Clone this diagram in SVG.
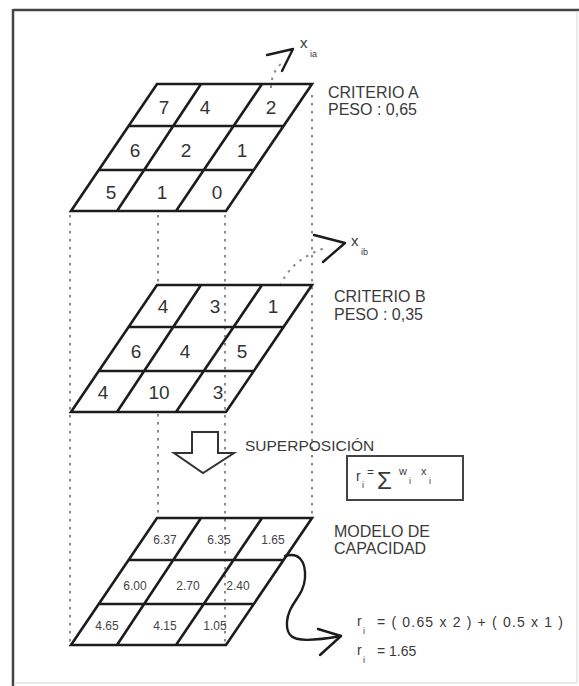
<svg xmlns="http://www.w3.org/2000/svg" width="579" height="686" viewBox="0 0 579 686">
<style>
.g{fill:none;stroke:#1c1c1c;stroke-width:2.6;stroke-linejoin:miter}
.d{fill:none;stroke:#8a8a8a;stroke-width:2;stroke-dasharray:2.5 5.5}
.n{font-family:"Liberation Sans",Arial,sans-serif;font-size:19px;fill:#333;text-anchor:middle}
.s{font-family:"Liberation Sans",Arial,sans-serif;font-size:12px;fill:#444;text-anchor:middle}
.l{font-family:"Liberation Sans",Arial,sans-serif;font-size:16px;fill:#3a3a3a}
.f{font-family:"Liberation Sans",Arial,sans-serif;font-size:14px;fill:#3a3a3a}
.sub{font-family:"Liberation Sans",Arial,sans-serif;font-size:9px;fill:#3a3a3a}
.a{fill:none;stroke:#1c1c1c;stroke-width:2.4;stroke-linecap:round;stroke-linejoin:round}
</style>
<defs>
<g id="grid">
<path class="g" d="M157,0 H312 L226,127 H71 Z M128.6,42 H283.6 M98.8,86 H253.8 M201,0 L117,127 M262,0 L176,127"/>
</g>
</defs>
<rect x="0" y="0" width="579" height="686" fill="#fff"/>
<g id="frame">
<line x1="13" y1="10" x2="579" y2="10" stroke="#444" stroke-width="2.5"/>
<line x1="13" y1="9" x2="13" y2="686" stroke="#444" stroke-width="2.5"/>
<line x1="577" y1="11" x2="577" y2="683" stroke="#e2e2e2" stroke-width="1.5"/>
<line x1="14" y1="683" x2="577" y2="683" stroke="#e2e2e2" stroke-width="1.5"/>
</g>
<g id="connectors">
<line class="d" x1="70" y1="215" x2="70" y2="645"/>
<line class="d" x1="158" y1="215" x2="158" y2="285"/>
<line class="d" x1="158" y1="414" x2="158" y2="518"/>
<line class="d" x1="225" y1="215" x2="225" y2="645"/>
<line class="d" x1="312" y1="95" x2="312" y2="518"/>
<path class="d" d="M271,88 Q271,72 283,62"/>
<path class="d" d="M280,286 Q292,258 328,247"/>
<path class="a" d="M267,55 L293,49 L282,71"/>
<path class="a" d="M314,235 L345,243 L323,262"/>
<path class="a" d="M285,556 C298,552 306,560 305,578 C304,596 288,604 287,622 C286,640 296,644 341,636"/>
<path class="a" d="M318,629 L341,636 L320,655"/>
</g>
<g id="grid-a">
<use href="#grid" y="84"/>
<text class="n" x="164" y="114">7</text><text class="n" x="205" y="114">4</text><text class="n" x="271" y="114">2</text>
<text class="n" x="135" y="157">6</text><text class="n" x="186" y="157">2</text><text class="n" x="242" y="157">1</text>
<text class="n" x="111" y="199">5</text><text class="n" x="162" y="199">1</text><text class="n" x="217" y="199">0</text>
<text class="l" x="328" y="98">CRITERIO A</text>
<text class="l" x="328" y="115">PESO : 0,65</text>
<text class="f" x="300" y="48" style="font-size:15px">x</text><text class="sub" x="310" y="57">ia</text>
</g>
<g id="grid-b">
<use href="#grid" y="285"/>
<text class="n" x="163" y="313">4</text><text class="n" x="215" y="313">3</text><text class="n" x="273" y="313">1</text>
<text class="n" x="136" y="358">6</text><text class="n" x="185" y="358">4</text><text class="n" x="242" y="358">5</text>
<text class="n" x="103" y="399">4</text><text class="n" x="159" y="399">10</text><text class="n" x="218" y="399">3</text>
<text class="l" x="334" y="302">CRITERIO B</text>
<text class="l" x="334" y="320">PESO : 0,35</text>
<text class="f" x="351" y="246" style="font-size:15px">x</text><text class="sub" x="361" y="255">ib</text>
</g>
<g id="superposicion">
<path d="M192,432 H218 V453 H234 L203,473 L174,453 H192 Z" fill="#fff" stroke="#333" stroke-width="2"/>
<text class="l" x="245" y="451" style="font-size:15.5px">SUPERPOSICIÓN</text>
</g>
<g id="formula-box">
<rect x="347" y="456" width="116" height="44" fill="none" stroke="#444" stroke-width="2"/>
<text class="f" x="356" y="481">r</text><text class="sub" x="362" y="488">i</text>
<text class="sub" x="367" y="476" style="font-size:12px">=</text>
<text class="f" x="377" y="489" style="font-size:24px">Σ</text>
<text class="sub" x="399" y="475" style="font-size:11px">w</text><text class="sub" x="409" y="484">i</text>
<text class="sub" x="421" y="475" style="font-size:11px">x</text><text class="sub" x="429" y="484">i</text>
</g>
<g id="grid-c">
<use href="#grid" y="518"/>
<text class="s" x="165" y="544">6.37</text><text class="s" x="219" y="544">6.35</text><text class="s" x="273" y="544">1.65</text>
<text class="s" x="135" y="590">6.00</text><text class="s" x="188" y="590">2.70</text><text class="s" x="238" y="590">2.40</text>
<text class="s" x="107" y="630">4.65</text><text class="s" x="165" y="630">4.15</text><text class="s" x="215" y="630">1.05</text>
<text class="l" x="334" y="537">MODELO DE</text>
<text class="l" x="334" y="554">CAPACIDAD</text>
</g>
<g id="result">
<text class="f" x="357" y="626">r</text><text class="sub" x="363" y="634">i</text>
<text class="f" x="377" y="627" textLength="186" lengthAdjust="spacing">= ( 0.65 x 2 ) + ( 0.5 x 1 )</text>
<text class="f" x="357" y="655">r</text><text class="sub" x="363" y="663">i</text>
<text class="f" x="377" y="656">= 1.65</text>
</g>
</svg>
